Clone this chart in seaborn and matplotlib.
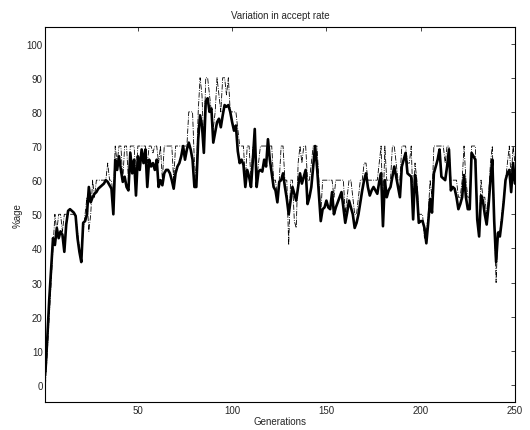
import numpy as np
import pandas as pd
import matplotlib
matplotlib.use("Agg")
import matplotlib.pyplot as plt
import seaborn as sns

# accept rate per generation (thick solid line)
mean_rate = [
    4, 14, 25, 34, 43, 41, 46, 43, 45, 44,
    39, 47, 51, 51.5, 51, 50.5, 49.5, 43, 39, 36,
    47.5, 48, 50, 58, 53.5, 55, 56, 56.5, 57.5, 58,
    58.5, 59, 60, 59.5, 58.5, 57.5, 50, 66, 63, 67,
    63, 59.5, 61, 58, 57, 68, 62, 66, 55.5, 67,
    63, 69, 65, 69, 58, 66, 64, 65, 63, 66,
    58, 60, 58.5, 62, 63, 63, 62, 60, 57.5, 62,
    64, 65, 67, 70, 66, 69, 71, 69, 66, 58,
    58, 72, 79, 76, 68, 83, 84, 80, 81, 71,
    74, 77, 78, 75.5, 79, 82, 81.5, 82, 80, 77,
    74.5, 76, 68.5, 65, 66, 64.5, 58, 63, 61, 58,
    66, 75, 58, 62.5, 63, 62.5, 66, 64, 72, 66,
    62, 58, 57, 53.5, 59.5, 60, 62, 58, 54.5, 50,
    54, 58, 56, 54, 58, 62, 59, 61, 63, 53,
    55, 58, 64, 70, 64, 56, 48, 51.5, 52, 54,
    52, 51.5, 56.5, 50, 52, 53.5, 55, 56.5, 52, 47.5,
    50.5, 54, 52, 50, 46, 47.5, 50, 53.5, 57, 60,
    62, 58, 55.5, 57, 58, 57, 56, 59.5, 62, 46.5,
    60, 55, 57, 58, 61, 64, 61, 58, 55, 64,
    66, 68, 62, 61.5, 61, 48.5, 61.5, 56.5, 47.5, 48,
    48, 46, 41.5, 47.5, 54.5, 50.5, 62, 64, 66, 69,
    61, 60.5, 60, 64, 69, 57, 58, 57.5, 55, 51.5,
    53, 55, 61.5, 55, 51.5, 51.5, 68, 67, 66, 48.5,
    43.5, 55.5, 54, 50, 47, 52.5, 60, 66, 48, 36,
    44.5, 43.5, 48, 53.5, 60, 62, 63, 56.5, 65, 59,
]

# thin dash-dot line
peak_rate = [
    0, 10, 20, 30, 40, 50, 45, 50, 50, 45,
    50, 50, 50, 50, 50, 50, 50, 45, 40, 38,
    45, 50, 55, 45, 50, 60, 55, 60, 60, 60,
    60, 60, 60, 65, 60, 60, 55, 70, 65, 70,
    70, 60, 70, 70, 60, 70, 70, 70, 60, 70,
    70, 70, 70, 70, 65, 70, 70, 68, 70, 70,
    65, 70, 60, 70, 70, 70, 70, 70, 60, 70,
    70, 70, 70, 70, 70, 70, 80, 80, 80, 65,
    60, 80, 90, 85, 70, 90, 90, 85, 80, 75,
    80, 90, 85, 80, 90, 90, 85, 90, 80, 80,
    80, 80, 75, 70, 70, 70, 60, 70, 70, 60,
    70, 70, 60, 65, 70, 70, 70, 70, 70, 70,
    70, 60, 60, 55, 60, 70, 70, 60, 60, 41,
    60, 60, 48, 46, 65, 70, 65, 70, 70, 60,
    60, 65, 70, 70, 70, 60, 50, 60, 60, 60,
    60, 60, 60, 55, 60, 60, 60, 60, 60, 50,
    55, 60, 60, 55, 50, 50, 55, 60, 60, 65,
    65, 60, 60, 60, 60, 60, 60, 65, 70, 50,
    70, 60, 60, 60, 70, 70, 65, 60, 60, 70,
    70, 70, 65, 65, 70, 52, 65, 60, 50, 50,
    50, 43, 45, 50, 60, 55, 70, 70, 70, 70,
    70, 70, 65, 70, 70, 60, 60, 60, 60, 55,
    55, 60, 70, 60, 55, 55, 70, 70, 70, 50,
    45, 60, 55, 55, 50, 55, 65, 70, 50, 30,
    45, 45, 50, 55, 60, 65, 70, 60, 70, 65,
]

generations = np.arange(1, len(mean_rate) + 1)
x_ticks = [50, 100, 150, 200, 250]
y_ticks = list(range(0, 101, 10))

df = pd.DataFrame({"gen": generations, "mean": mean_rate, "peak": peak_rate})

sns.set_style("white")
plt.rcParams["font.family"] = ["Liberation Sans", "DejaVu Sans"]

fig = plt.figure(figsize=(5.3, 4.31), dpi=100)
ax = fig.add_axes([0.0858, 0.065, 0.8858, 0.871])

sns.lineplot(data=df, x="gen", y="peak", ax=ax, color="black",
             linewidth=0.6, linestyle="-.")
sns.lineplot(data=df, x="gen", y="mean", ax=ax, color="black",
             linewidth=1.9)

ax.set_xlim(1, 250)
ax.set_ylim(-5, 105)
ax.set_xticks(x_ticks)
ax.set_yticks(y_ticks)

ax.tick_params(direction="in", length=3, width=0.6, labelsize=7,
               top=True, right=True, pad=2)
for s in ax.spines.values():
    s.set_linewidth(0.8)
    s.set_color("black")

ax.set_title("Variation in accept rate", fontsize=7, pad=6)
ax.set_xlabel("Generations", fontsize=7, labelpad=1)
ax.set_ylabel("%age", fontsize=7, labelpad=3)

fig.savefig("out.png", dpi=100)
